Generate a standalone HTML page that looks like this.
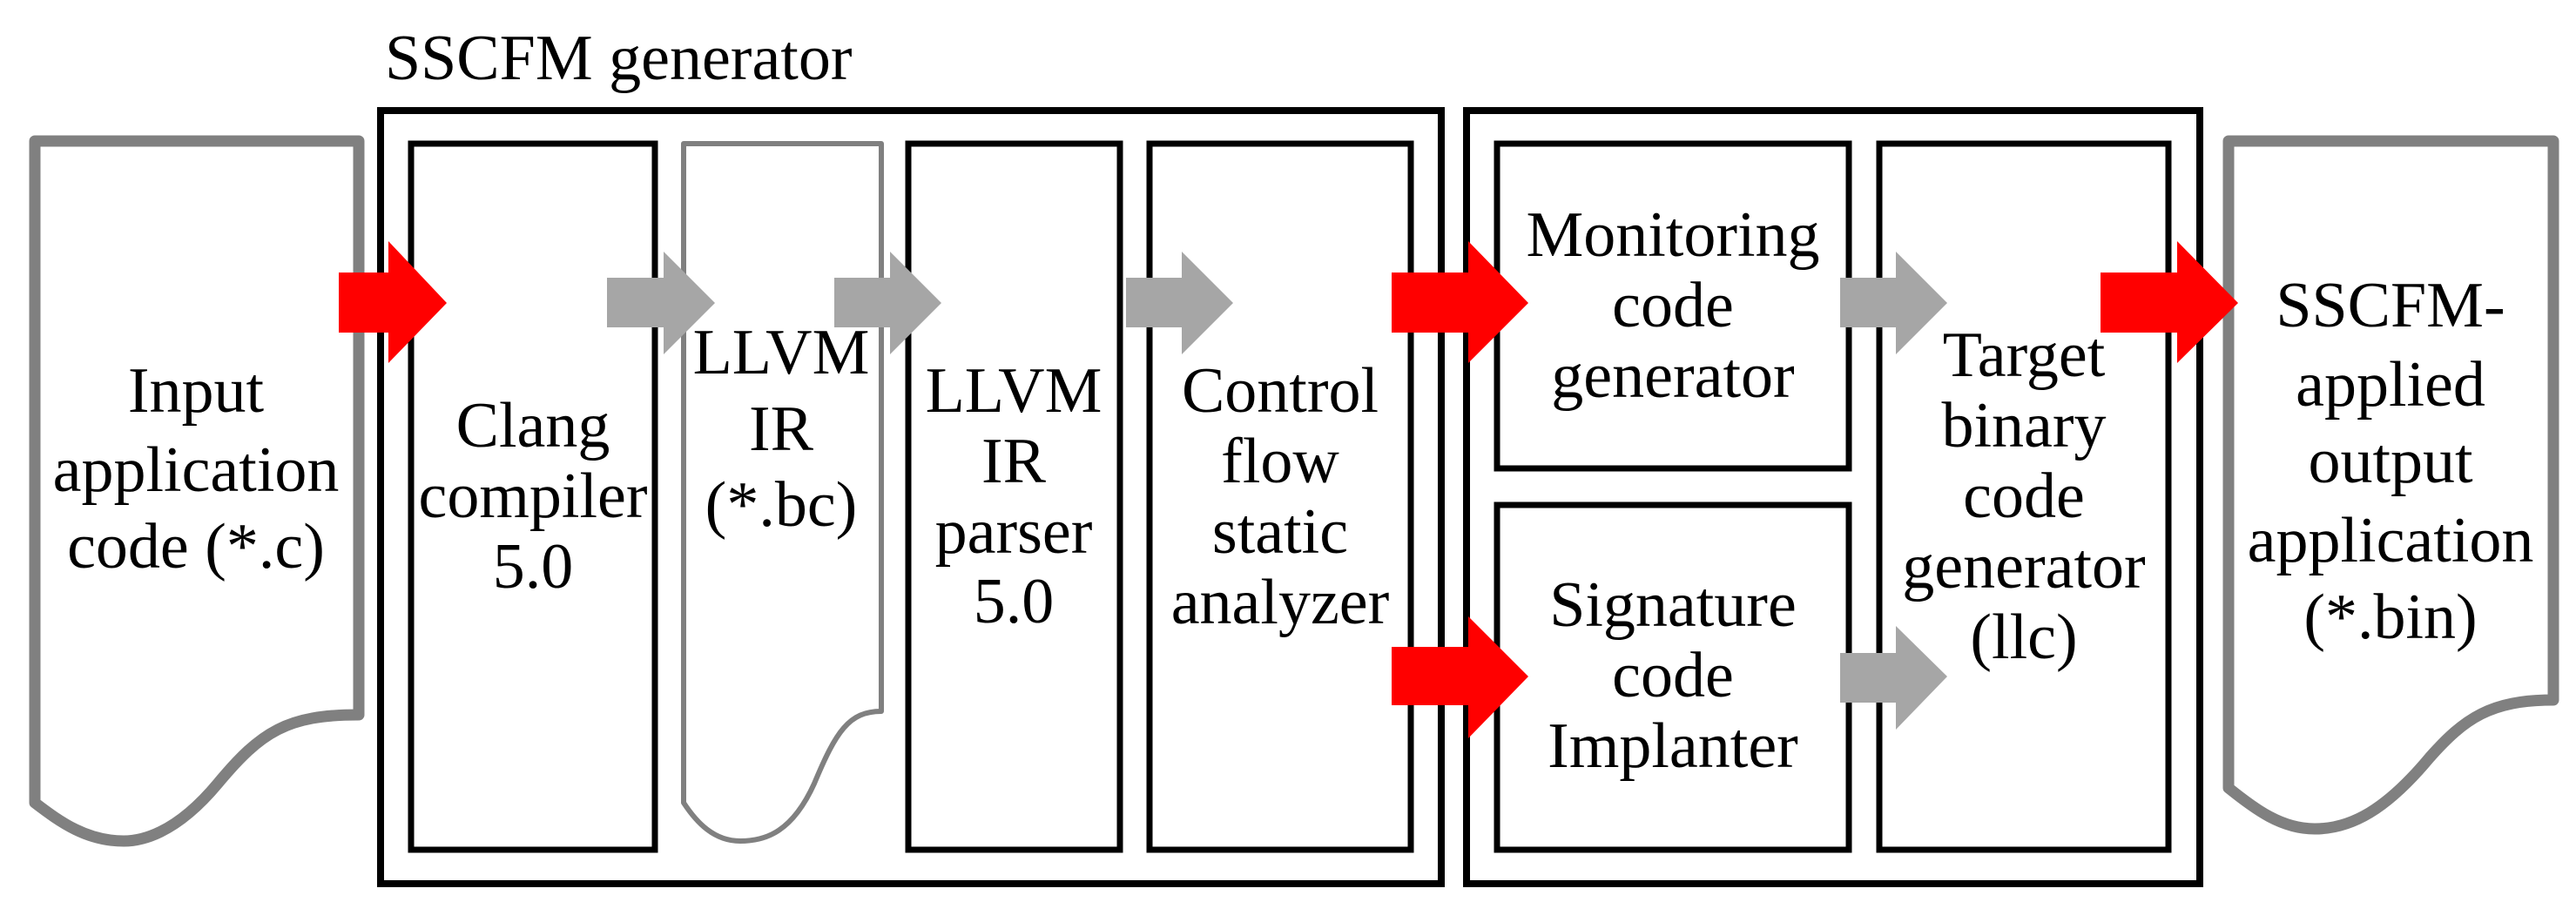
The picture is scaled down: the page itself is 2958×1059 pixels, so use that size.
<!DOCTYPE html>
<html><head><meta charset="utf-8"><style>
html,body{margin:0;padding:0;background:#fff}
svg{display:block}
</style></head><body>
<svg width="2958" height="1059" viewBox="0 0 2958 1059" xmlns="http://www.w3.org/2000/svg">
<rect width="2958" height="1059" fill="#fff"/>
<!-- outer boxes -->
<rect x="437" y="127" width="1218" height="888" fill="none" stroke="#000" stroke-width="8"/>
<rect x="1684" y="127" width="842" height="888" fill="none" stroke="#000" stroke-width="8"/>
<!-- input doc -->
<path d="M40,162 L412,162 L412,821 C330,821 300,840 250,900 C200,960 160,966 142,966 C100,966 70,945 40,922 Z" fill="#fff" stroke="#808080" stroke-width="13" stroke-linejoin="round"/>
<!-- clang -->
<rect x="472" y="165" width="280" height="811" fill="none" stroke="#000" stroke-width="7"/>
<!-- llvm doc -->
<path d="M785,165 L1012,165 L1012,817 C975,817 960,840 935,900 C910,955 880,966 850,966 C820,966 800,945 785,922 Z" fill="#fff" stroke="#808080" stroke-width="6" stroke-linejoin="round"/>
<rect x="1043" y="165" width="243" height="811" fill="none" stroke="#000" stroke-width="7"/>
<rect x="1320" y="165" width="300" height="811" fill="none" stroke="#000" stroke-width="7"/>
<rect x="1719" y="165" width="404" height="373" fill="none" stroke="#000" stroke-width="7"/>
<rect x="1719" y="580" width="404" height="396" fill="none" stroke="#000" stroke-width="7"/>
<rect x="2158" y="165" width="332" height="811" fill="none" stroke="#000" stroke-width="7"/>
<path d="M2559,162 L2932,162 L2932,804 C2860,804 2830,825 2790,870 C2740,930 2700,952 2658,952 C2620,952 2590,930 2559,905 Z" fill="#fff" stroke="#808080" stroke-width="13" stroke-linejoin="round"/>
<g font-family="'Liberation Serif', 'Times New Roman', 'DejaVu Serif', serif" font-size="74" fill="#000" text-anchor="middle">
<text x="442" y="91" text-anchor="start">SSCFM generator</text>
<text x="225" y="473">Input</text>
<text x="225" y="564">application</text>
<text x="225" y="652">code (*.c)</text>
<text x="612" y="513">Clang</text>
<text x="612" y="594">compiler</text>
<text x="612" y="675">5.0</text>
<text x="897" y="429">LLVM</text>
<text x="897" y="517">IR</text>
<text x="897" y="604">(*.bc)</text>
<text x="1164" y="473">LLVM</text>
<text x="1164" y="554">IR</text>
<text x="1164" y="635">parser</text>
<text x="1164" y="715">5.0</text>
<text x="1470" y="473">Control</text>
<text x="1470" y="554">flow</text>
<text x="1470" y="635">static</text>
<text x="1470" y="716">analyzer</text>
<text x="1921" y="294">Monitoring</text>
<text x="1921" y="375">code</text>
<text x="1921" y="456">generator</text>
<text x="1921" y="719">Signature</text>
<text x="1921" y="800">code</text>
<text x="1921" y="881">Implanter</text>
<text x="2324" y="432">Target</text>
<text x="2324" y="513">binary</text>
<text x="2324" y="594">code</text>
<text x="2324" y="675">generator</text>
<text x="2324" y="756">(llc)</text>
<text x="2745" y="375">SSCFM-</text>
<text x="2745" y="466">applied</text>
<text x="2745" y="554">output</text>
<text x="2745" y="645">application</text>
<text x="2745" y="733">(*.bin)</text>
</g>
<g fill="#ff0000">
<polygon points="389,313 446,313 446,277 513,348 446,417 446,382 389,382"/>
<polygon points="1598,313 1686,313 1686,277 1755,348 1686,417 1686,382 1598,382"/>
<polygon points="1598,743 1686,743 1686,708 1755,777 1686,848 1686,810 1598,810"/>
<polygon points="2412,313 2500,313 2500,277 2570,348 2500,417 2500,382 2412,382"/>
</g>
<g fill="#a6a6a6">
<polygon points="697,319 762,319 762,289 821,348 762,407 762,376 697,376"/>
<polygon points="958,319 1022,319 1022,289 1081,348 1022,407 1022,376 958,376"/>
<polygon points="1293,319 1357,319 1357,289 1416,348 1357,407 1357,376 1293,376"/>
<polygon points="2113,319 2177,319 2177,289 2236,348 2177,407 2177,376 2113,376"/>
<polygon points="2113,750 2177,750 2177,719 2236,777 2177,838 2177,807 2113,807"/>
</g>
</svg>
</body></html>
